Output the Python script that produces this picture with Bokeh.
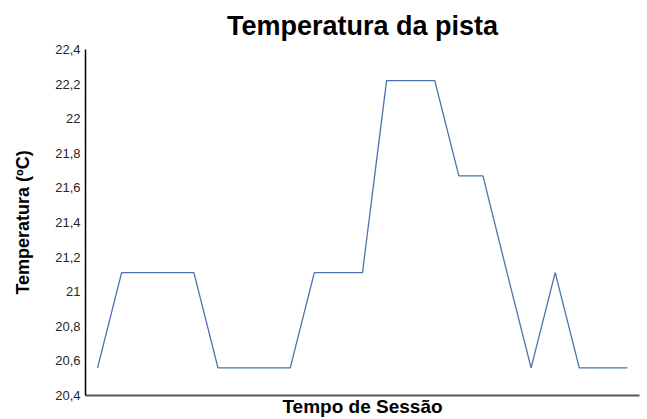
from bokeh.plotting import figure
from bokeh.models import FixedTicker, ColumnDataSource, Range1d
from bokeh.embed import file_html
from bokeh.resources import INLINE

# data
session_index = list(range(23))
temperature = [20.56, 21.11, 21.11, 21.11, 21.11, 20.56, 20.56, 20.56, 20.56,
               21.11, 21.11, 21.11, 22.22, 22.22, 22.22, 21.67, 21.67, 21.11,
               20.56, 21.11, 20.56, 20.56, 20.56]
y_tick_values = [20.4, 20.6, 20.8, 21.0, 21.2, 21.4, 21.6, 21.8, 22.0, 22.2, 22.4]
y_tick_labels = ["20,4", "20,6", "20,8", "21", "21,2", "21,4", "21,6", "21,8", "22", "22,2", "22,4"]

src = ColumnDataSource(dict(x=session_index, y=temperature))

p = figure(width=647, height=419, output_backend="svg", toolbar_location=None,
           x_range=Range1d(-0.5, 22.5), y_range=Range1d(20.4, 22.4),
           min_border_left=85, min_border_right=8, min_border_top=47, min_border_bottom=24)

p.line("x", "y", source=src, line_color="#4a72b0", line_width=1.3)

p.title.text = "Temperatura da pista"
p.title.align = "center"
p.title.text_font = "Liberation Sans"
p.title.text_font_size = "27px"
p.title.text_font_style = "bold"
p.title.text_color = "#000000"
p.title.text_line_height = 1.0
p.title.standoff = 17

p.outline_line_color = None
p.grid.visible = False
p.background_fill_color = "white"

ya = p.yaxis[0]
ya.ticker = FixedTicker(ticks=y_tick_values)
ya.major_label_overrides = dict(zip(y_tick_values, y_tick_labels))
ya.major_tick_out = 0
ya.major_tick_in = 0
ya.minor_tick_out = 0
ya.minor_tick_in = 0
ya.major_label_standoff = 5
ya.major_label_text_font = "Liberation Sans"
ya.major_label_text_font_size = "13px"
ya.major_label_text_color = "#262626"
ya.axis_line_color = "#000000"
ya.axis_line_width = 1.5
ya.axis_label = "Temperatura (ºC)"
ya.axis_label_text_font = "Liberation Sans"
ya.axis_label_text_font_size = "18px"
ya.axis_label_text_font_style = "bold"
ya.axis_label_text_color = "#000000"
ya.axis_label_standoff = 19

xa = p.xaxis[0]
xa.ticker = FixedTicker(ticks=[])
xa.major_tick_out = 0
xa.major_tick_in = 0
xa.minor_tick_out = 0
xa.minor_tick_in = 0
xa.major_label_text_font_size = "0px"
xa.major_label_standoff = 0
xa.axis_line_color = "#595959"
xa.axis_line_width = 2
xa.axis_label = "Tempo de Sessão"
xa.axis_label_text_font = "Liberation Sans"
xa.axis_label_text_font_size = "19px"
xa.axis_label_text_font_style = "bold"
xa.axis_label_text_color = "#000000"
xa.axis_label_standoff = 0

open("out.html", "w").write(file_html(p, INLINE))
